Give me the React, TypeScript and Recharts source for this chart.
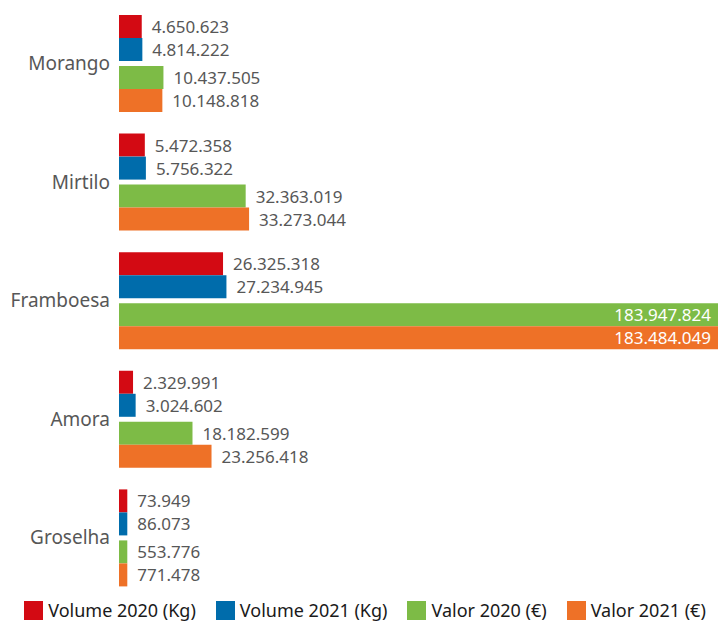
import { Bar, BarChart, LabelList, Legend, Rectangle, XAxis, YAxis } from 'recharts';

const categories = ['Morango', 'Mirtilo', 'Framboesa', 'Amora', 'Groselha'];
const vol2020 = [4650623, 5472358, 26325318, 2329991, 73949];
const vol2021 = [4814222, 5756322, 27234945, 3024602, 86073];
const val2020 = [10437505, 32363019, 183947824, 18182599, 553776];
const val2021 = [10148818, 33273044, 183484049, 23256418, 771478];

const seriesKeys = ['vol2020', 'vol2021', 'val2020', 'val2021'];
const seriesNames = ['Volume 2020 (Kg)', 'Volume 2021 (Kg)', 'Valor 2020 (€)', 'Valor 2021 (€)'];
const seriesColors = ['#d30a13', '#006cab', '#7dbb46', '#ee7127'];

const data = categories.map((name, i) => ({
  name,
  vol2020: vol2020[i],
  vol2021: vol2021[i],
  val2020: val2020[i],
  val2021: val2021[i],
}));

const W = 719;
const H = 621;
const MARGIN = { top: 4, right: 1, bottom: 4, left: 0 };
// value axis starts a little below zero, so bars get a small stub at the axis edge
const X_DOMAIN: [number, number] = [-1413000, 158300000];
const FONT = '"Noto Sans", "Open Sans", sans-serif';
const TEXT = '#575757';

const fmt = (v: number) => String(v).replace(/\B(?=(\d{3})+(?!\d))/g, '.');

/** Bar drawn from the plot edge instead of from zero. */
function EdgeBar(props: any) {
  const left = props.background ? props.background.x : props.x;
  return (
    <Rectangle
      x={left}
      y={props.y}
      width={props.x + props.width - left}
      height={props.height}
      fill={props.fill}
    />
  );
}

/** Value after the bar; inside in white when the bar runs off the plot. */
function ValueLabel(props: any) {
  const { x, y, width, height, value } = props;
  const cy = y + height / 2;
  const clipped = value > X_DOMAIN[1];
  return (
    <text
      x={clipped ? W - MARGIN.right - 7 : x + width + 10}
      y={cy}
      textAnchor={clipped ? 'end' : 'start'}
      dominantBaseline="central"
      fill={clipped ? '#ffffff' : TEXT}
      fontFamily={FONT}
      fontSize={17}
    >
      {fmt(value)}
    </text>
  );
}

function LegendRow() {
  return (
    <div
      style={{
        display: 'flex',
        justifyContent: 'center',
        alignItems: 'center',
        gap: 20,
        height: 20,
        paddingLeft: 12,
        fontFamily: FONT,
        fontSize: 18,
        color: '#1a1a1a',
      }}
    >
      {seriesNames.map((n, i) => (
        <div key={n} style={{ display: 'flex', alignItems: 'center', gap: 5 }}>
          <span style={{ display: 'inline-block', width: 19, height: 19, background: seriesColors[i] }} />
          {n}
        </div>
      ))}
    </div>
  );
}

export default function App() {
  return (
    <div style={{ position: 'absolute', left: 0, top: 0, background: '#fff' }}>
      <BarChart
        width={W}
        height={H}
        data={data}
        layout="vertical"
        margin={MARGIN}
        barGap={0}
        barCategoryGap={0}
      >
        <XAxis type="number" hide domain={X_DOMAIN} allowDataOverflow />
        <YAxis
          type="category"
          dataKey="name"
          width={119}
          axisLine={false}
          tickLine={false}
          tickSize={0}
          tickMargin={9}
          tick={{ fill: TEXT, fontFamily: FONT, fontSize: 19 }}
        />
        <Legend verticalAlign="bottom" content={<LegendRow />} wrapperStyle={{ bottom: 1 }} />
        {seriesKeys.slice(0, 2).map((k, i) => (
          <Bar
            key={k}
            dataKey={k}
            name={seriesNames[i]}
            fill={seriesColors[i]}
            barSize={23}
            minPointSize={3}
            shape={<EdgeBar />}
            isAnimationActive={false}
          >
            <LabelList dataKey={k} content={<ValueLabel />} />
          </Bar>
        ))}
        <Bar dataKey={() => 0} barSize={5} fill="none" legendType="none" isAnimationActive={false} />
        {seriesKeys.slice(2).map((k, j) => (
          <Bar
            key={k}
            dataKey={k}
            name={seriesNames[j + 2]}
            fill={seriesColors[j + 2]}
            barSize={23}
            minPointSize={3}
            shape={<EdgeBar />}
            isAnimationActive={false}
          >
            <LabelList dataKey={k} content={<ValueLabel />} />
          </Bar>
        ))}
      </BarChart>
    </div>
  );
}
